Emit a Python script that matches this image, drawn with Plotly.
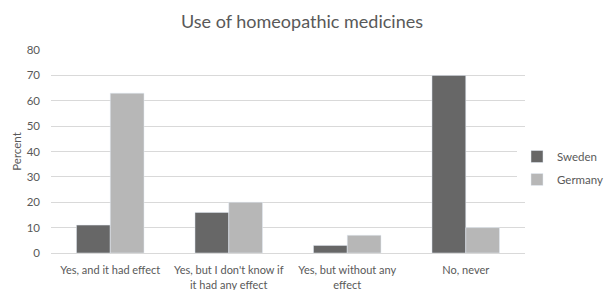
import plotly.graph_objects as go

categories = ["Yes, and it had effect", "Yes, but I don't know if<br>it had any effect",
              "Yes, but without any<br>effect", "No, never"]
sweden = [11, 16, 3, 70]
germany = [63, 20, 7, 10]
y_ticks = [0, 10, 20, 30, 40, 50, 60, 70, 80]

FONT = "Lato"
GREY = "#595959"

fig = go.Figure()
fig.add_trace(go.Bar(name="Sweden", x=categories, y=sweden, legendgroup="s",
                     marker=dict(color="#676767")))
fig.add_trace(go.Bar(name="Germany", x=categories, y=germany, legendgroup="g",
                     marker=dict(color="#b7b7b7")))

fig.update_layout(
    width=604, height=290,
    margin=dict(l=51, r=79, t=50, b=37, autoexpand=False),
    paper_bgcolor="white", plot_bgcolor="white",
    barmode="group", bargap=0.43, bargroupgap=0,
    title=dict(text="Use of homeopathic medicines", x=0.5, xanchor="center",
               y=1 - 22 / 290, yanchor="middle",
               font=dict(family=FONT, size=18, color=GREY)),
    font=dict(family=FONT, size=11.5, color=GREY),
    legend=dict(xref="container", x=517 / 604, xanchor="left",
                yref="container", y=1 - 168 / 290, yanchor="middle",
                font=dict(family=FONT, size=11.5, color=GREY),
                itemwidth=30, tracegroupgap=4),
    showlegend=True,
)
fig.update_xaxes(showgrid=False, showline=True, linecolor="#d9d9d9", ticks="",
                 ticklabelstandoff=7, tickangle=0, automargin=False,
                 tickfont=dict(family=FONT, size=11, color=GREY))
fig.update_yaxes(range=[0, 80], tickvals=y_ticks, showgrid=True, gridcolor="#d9d9d9",
                 zeroline=False, showline=False, ticks="", ticklen=0,
                 ticklabelstandoff=10, automargin=False,
                 title=dict(text="Percent", font=dict(family=FONT, size=11.5, color=GREY), standoff=2),
                 tickfont=dict(family=FONT, size=11.5, color=GREY))

fig.write_html("out.html", config={"displayModeBar": False},
               post_script="document.body.style.margin='0';document.body.style.overflow='hidden';")
